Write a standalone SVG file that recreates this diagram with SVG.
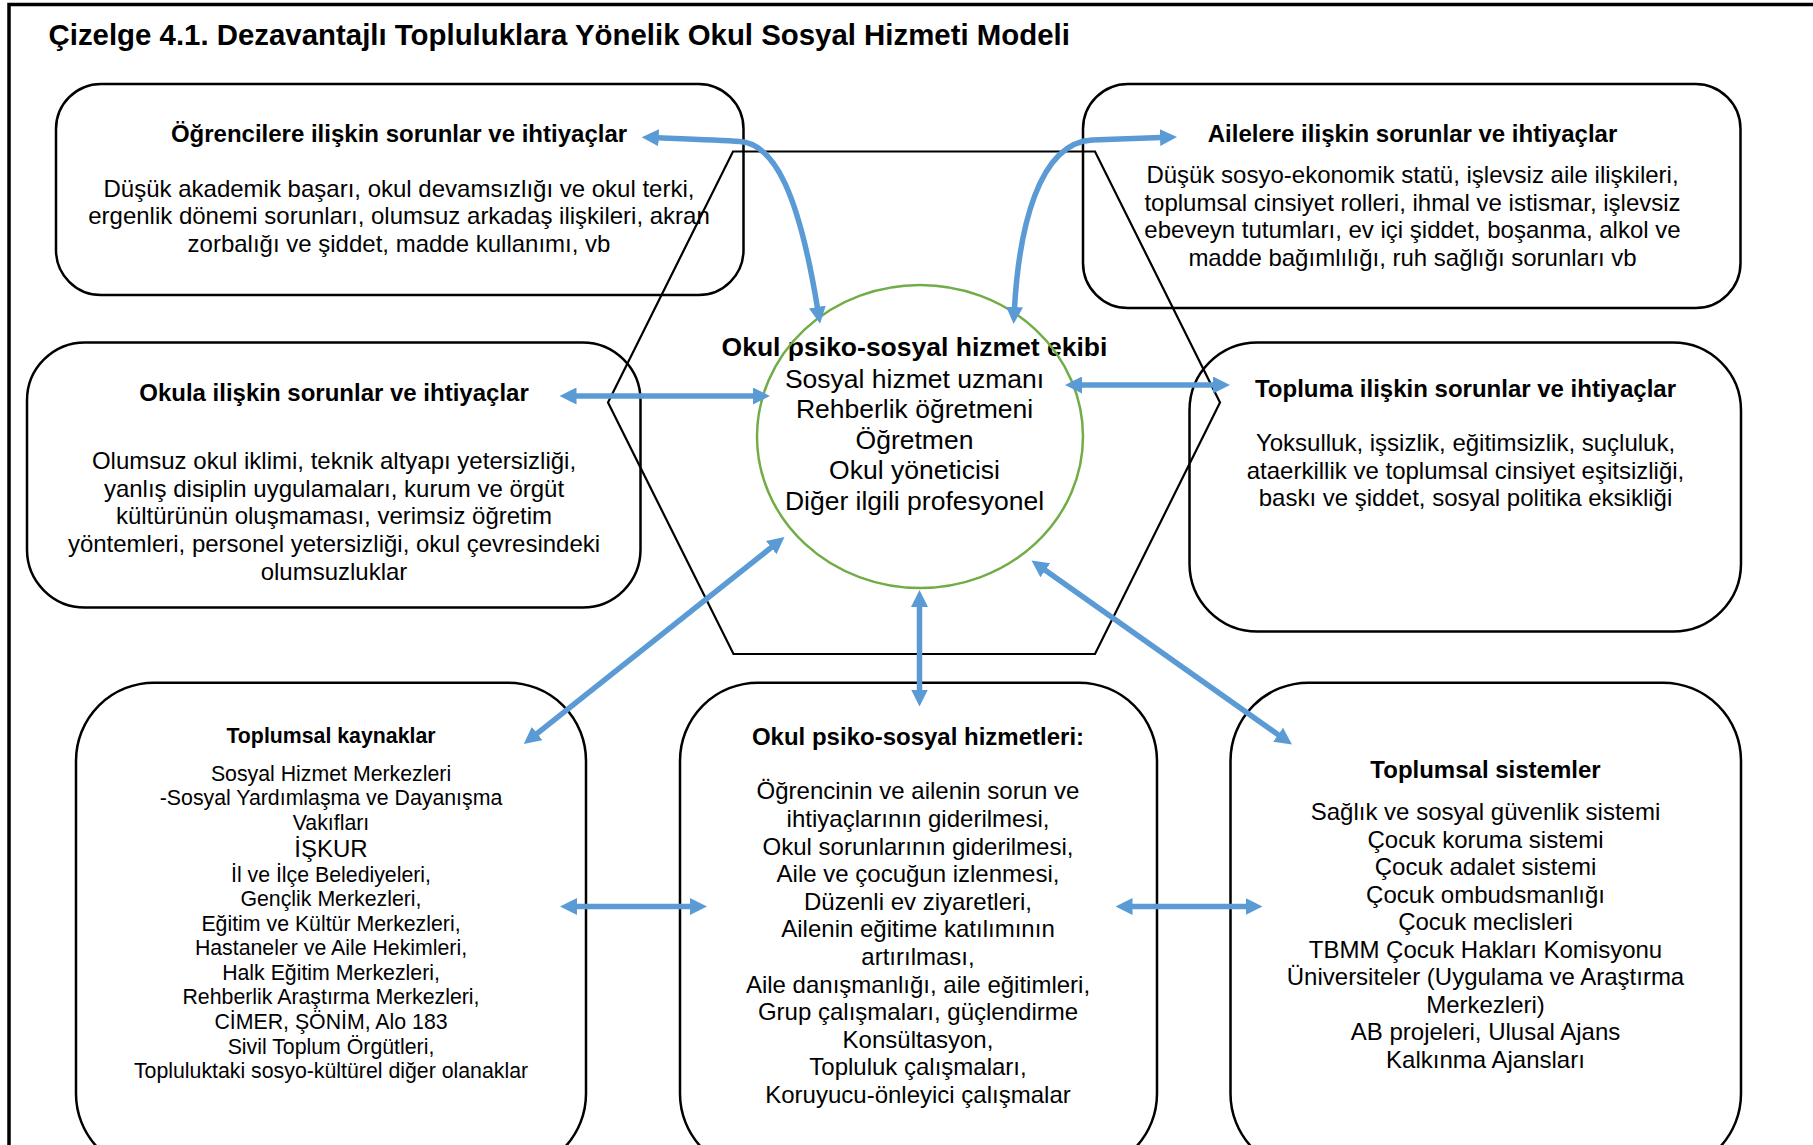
<svg xmlns="http://www.w3.org/2000/svg" width="1813" height="1145" viewBox="0 0 1813 1145">
  <defs>
    <style>
      text { font-family: "Liberation Sans", Arial, sans-serif; fill: #000; text-anchor: middle; }
      .heading { font-size: 29.4px; font-weight: bold; text-anchor: start; }
      .hd { font-size: 24px; font-weight: bold; }
      .tx { font-size: 24px; }
      .hd-sm { font-size: 21.3px; font-weight: bold; }
      .tx-sm { font-size: 21.3px; }
      .hd-lg { font-size: 26.5px; font-weight: bold; }
      .tx-lg { font-size: 26.5px; }
      .box { fill: none; stroke: #000; stroke-width: 2.5; }
      .hex { fill: none; stroke: #000; stroke-width: 2.2; stroke-linejoin: miter; }
      .ring { fill: none; stroke: #70AD47; stroke-width: 2.5; }
      .frame { fill: none; stroke: #000; stroke-width: 3.5; }
      .link { fill: none; stroke: #5B9BD5; stroke-width: 5.5; marker-start: url(#head); marker-end: url(#head); }
    </style>
    <marker id="head" viewBox="0 0 17 17" refX="1" refY="8.5" markerWidth="17" markerHeight="17" markerUnits="userSpaceOnUse" orient="auto-start-reverse">
      <path d="M0,0 L17,8.5 L0,17 Z" fill="#5B9BD5"/>
    </marker>
  </defs>

  <rect x="0" y="0" width="1813" height="1145" fill="#fff"/>

  <!-- page frame -->
  <path class="frame" d="M9 1145 V4.5 H1813"/>

  <text class="heading" x="48.5" y="45">Çizelge 4.1. Dezavantajlı Topluluklara Yönelik Okul Sosyal Hizmeti Modeli</text>

  <!-- hexagon framing the central team -->
  <polygon class="hex" points="733,151.5 1095,151.5 1220,402.5 1095,654 733.5,654 608,402.5"/>

  <g id="ogrenciler">
    <rect class="box" x="56" y="84" width="687.5" height="211" rx="45" ry="45"/>
    <text class="hd" x="399" y="141.5">Öğrencilere ilişkin sorunlar ve ihtiyaçlar</text>
    <text class="tx" x="399" y="196.5">Düşük akademik başarı, okul devamsızlığı ve okul terki,</text>
    <text class="tx" x="399" y="224">ergenlik dönemi sorunları, olumsuz arkadaş ilişkileri, akran</text>
    <text class="tx" x="399" y="251.7">zorbalığı ve şiddet, madde kullanımı, vb</text>
  </g>

  <g id="aileler">
    <rect class="box" x="1083" y="84" width="657.5" height="224" rx="45" ry="45"/>
    <text class="hd" x="1412.5" y="141.5">Ailelere ilişkin sorunlar ve ihtiyaçlar</text>
    <text class="tx" x="1412.5" y="183.3">Düşük sosyo-ekonomik statü, işlevsiz aile ilişkileri,</text>
    <text class="tx" x="1412.5" y="210.8">toplumsal cinsiyet rolleri, ihmal ve istismar, işlevsiz</text>
    <text class="tx" x="1412.5" y="238.3">ebeveyn tutumları, ev içi şiddet, boşanma, alkol ve</text>
    <text class="tx" x="1412.5" y="265.8">madde bağımlılığı, ruh sağlığı sorunları vb</text>
  </g>

  <g id="okul">
    <rect class="box" x="27" y="342.5" width="613.5" height="265" rx="58" ry="58"/>
    <text class="hd" x="334" y="401">Okula ilişkin sorunlar ve ihtiyaçlar</text>
    <text class="tx" x="334" y="469">Olumsuz okul iklimi, teknik altyapı yetersizliği,</text>
    <text class="tx" x="334" y="496.7">yanlış disiplin uygulamaları, kurum ve örgüt</text>
    <text class="tx" x="334" y="524.3">kültürünün oluşmaması, verimsiz öğretim</text>
    <text class="tx" x="334" y="552.2">yöntemleri, personel yetersizliği, okul çevresindeki</text>
    <text class="tx" x="334" y="580">olumsuzluklar</text>
  </g>

  <g id="toplum">
    <rect class="box" x="1189.5" y="342.5" width="551.5" height="289" rx="68" ry="68"/>
    <text class="hd" x="1465.5" y="396.5">Topluma ilişkin sorunlar ve ihtiyaçlar</text>
    <text class="tx" x="1465.5" y="451">Yoksulluk, işsizlik, eğitimsizlik, suçluluk,</text>
    <text class="tx" x="1465.5" y="478.5">ataerkillik ve toplumsal cinsiyet eşitsizliği,</text>
    <text class="tx" x="1465.5" y="506">baskı ve şiddet, sosyal politika eksikliği</text>
  </g>

  <g id="ekip">
    <text class="hd-lg" x="914.5" y="355.5">Okul psiko-sosyal hizmet ekibi</text>
    <text class="tx-lg" x="914.5" y="387.5">Sosyal hizmet uzmanı</text>
    <text class="tx-lg" x="914.5" y="418">Rehberlik öğretmeni</text>
    <text class="tx-lg" x="914.5" y="448.6">Öğretmen</text>
    <text class="tx-lg" x="914.5" y="479.2">Okul yöneticisi</text>
    <text class="tx-lg" x="914.5" y="509.8">Diğer ilgili profesyonel</text>
    <ellipse class="ring" cx="920" cy="436.5" rx="163" ry="151.5"/>
  </g>

  <g id="kaynaklar">
    <rect class="box" x="76" y="682.7" width="510" height="489" rx="78" ry="78"/>
    <text class="hd-sm" x="331" y="742.7">Toplumsal kaynaklar</text>
    <text class="tx-sm" x="331" y="780.5">Sosyal Hizmet Merkezleri</text>
    <text class="tx-sm" x="331" y="805.3">-Sosyal Yardımlaşma ve Dayanışma</text>
    <text class="tx-sm" x="331" y="829.7">Vakıfları</text>
    <text class="tx" x="331" y="856.8">İŞKUR</text>
    <text class="tx-sm" x="331" y="881.5">İl ve İlçe Belediyeleri,</text>
    <text class="tx-sm" x="331" y="906">Gençlik Merkezleri,</text>
    <text class="tx-sm" x="331" y="930.6">Eğitim ve Kültür Merkezleri,</text>
    <text class="tx-sm" x="331" y="955.2">Hastaneler ve Aile Hekimleri,</text>
    <text class="tx-sm" x="331" y="979.8">Halk Eğitim Merkezleri,</text>
    <text class="tx-sm" x="331" y="1004.4">Rehberlik Araştırma Merkezleri,</text>
    <text class="tx-sm" x="331" y="1029">CİMER, ŞÖNİM, Alo 183</text>
    <text class="tx-sm" x="331" y="1053.6">Sivil Toplum Örgütleri,</text>
    <text class="tx-sm" x="331" y="1078.2">Topluluktaki sosyo-kültürel diğer olanaklar</text>
  </g>

  <g id="hizmetler">
    <rect class="box" x="680" y="682.7" width="477" height="489" rx="78" ry="78"/>
    <text class="hd" x="918" y="744.5">Okul psiko-sosyal hizmetleri:</text>
    <text class="tx" x="918" y="799.3">Öğrencinin ve ailenin sorun ve</text>
    <text class="tx" x="918" y="826.9">ihtiyaçlarının giderilmesi,</text>
    <text class="tx" x="918" y="854.5">Okul sorunlarının giderilmesi,</text>
    <text class="tx" x="918" y="882.1">Aile ve çocuğun izlenmesi,</text>
    <text class="tx" x="918" y="909.7">Düzenli ev ziyaretleri,</text>
    <text class="tx" x="918" y="937.3">Ailenin eğitime katılımının</text>
    <text class="tx" x="918" y="964.9">artırılması,</text>
    <text class="tx" x="918" y="992.5">Aile danışmanlığı, aile eğitimleri,</text>
    <text class="tx" x="918" y="1020.1">Grup çalışmaları, güçlendirme</text>
    <text class="tx" x="918" y="1047.7">Konsültasyon,</text>
    <text class="tx" x="918" y="1075.3">Topluluk çalışmaları,</text>
    <text class="tx" x="918" y="1102.9">Koruyucu-önleyici çalışmalar</text>
  </g>

  <g id="sistemler">
    <rect class="box" x="1230.5" y="682.7" width="510.5" height="489" rx="78" ry="78"/>
    <text class="hd" x="1485.5" y="778.3">Toplumsal sistemler</text>
    <text class="tx" x="1485.5" y="820">Sağlık ve sosyal güvenlik sistemi</text>
    <text class="tx" x="1485.5" y="847.5">Çocuk koruma sistemi</text>
    <text class="tx" x="1485.5" y="875">Çocuk adalet sistemi</text>
    <text class="tx" x="1485.5" y="902.5">Çocuk ombudsmanlığı</text>
    <text class="tx" x="1485.5" y="930">Çocuk meclisleri</text>
    <text class="tx" x="1485.5" y="957.5">TBMM Çocuk Hakları Komisyonu</text>
    <text class="tx" x="1485.5" y="985">Üniversiteler (Uygulama ve Araştırma</text>
    <text class="tx" x="1485.5" y="1012.5">Merkezleri)</text>
    <text class="tx" x="1485.5" y="1040">AB projeleri, Ulusal Ajans</text>
    <text class="tx" x="1485.5" y="1067.5">Kalkınma Ajansları</text>
  </g>

  <!-- two-way links between the team and its surroundings -->
  <g id="connectors">
    <path class="link" d="M657.7 137.8 C690 139, 720 140, 740 141.5 C775 144, 799 195, 817.5 308"/>
    <path class="link" d="M1014.5 308 C1019 230, 1038 143, 1092 140 L1161 137.5"/>
    <path class="link" d="M575.5 396 H754"/>
    <path class="link" d="M1081 385 H1214"/>
    <path class="link" d="M771.97 546.95 L536.33 734.05"/>
    <path class="link" d="M919.5 606 V690.5"/>
    <path class="link" d="M1044.57 569.73 L1278.93 735.27"/>
    <path class="link" d="M576 906.5 H691"/>
    <path class="link" d="M1131.5 906.5 H1246.5"/>
  </g>
</svg>
